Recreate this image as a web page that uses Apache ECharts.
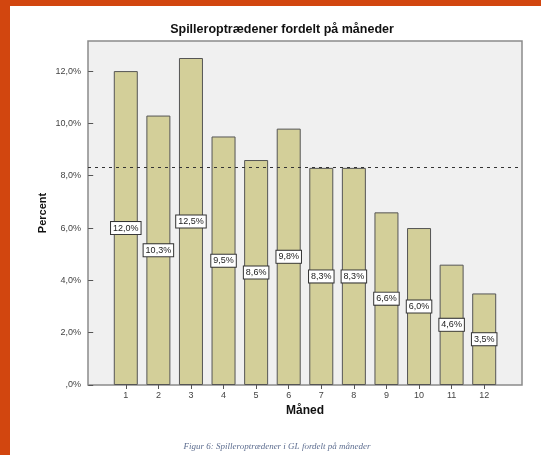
<!DOCTYPE html>
<html>
<head>
<meta charset="utf-8">
<script src="https://cdn.jsdelivr.net/npm/echarts@6/dist/echarts.min.js"></script>
<style>
html,body{margin:0;padding:0;background:#fff;}
#c{width:541px;height:455px;}
</style>
</head>
<body>
<div id="c"></div>
<script>
var months = [1,2,3,4,5,6,7,8,9,10,11,12];
var percents = [12.0,10.3,12.5,9.5,8.6,9.8,8.3,8.3,6.6,6.0,4.6,3.5];
var meanPercent = 8.33;
var yTicks = [0,2,4,6,8,10,12];

function fmtPct(v){
  var s = v.toFixed(1).replace('.', ',');
  if (s.indexOf('0,') === 0) s = s.substring(1);
  return s + '%';
}

var chart = echarts.init(document.getElementById('c'), null, {renderer:'canvas'});
chart.setOption({
  animation:false,
  backgroundColor:'#ffffff',
  textStyle:{fontFamily:'Liberation Sans, Arial, sans-serif'},
  title:{
    text:'Spilleroptrædener fordelt på måneder',
    left:277, top:18, textAlign:'center',
    textStyle:{fontSize:12.5, fontWeight:'bold', color:'#111', fontFamily:'Liberation Sans, Arial, sans-serif'}
  },
  grid:{left:88, right:19, top:41, bottom:70, show:true, backgroundColor:'#f0f0f0', borderColor:'#8a8a8a', borderWidth:1.5},
  xAxis:{
    type:'value', min:-0.16, max:13.16,
    name:'Måned', nameLocation:'middle', nameGap:20,
    nameTextStyle:{fontSize:12, fontWeight:'bold', color:'#111'},
    axisLine:{show:false},
    splitLine:{show:false},
    axisTick:{show:true, length:4, lineStyle:{color:'#555'}, customValues:months},
    axisLabel:{fontSize:9, color:'#444', margin:6, customValues:months, formatter:function(v){return String(v);}}
  },
  yAxis:{
    type:'value', min:0, max:13.15,
    name:'Percent', nameLocation:'middle', nameGap:40, nameMoveOverlap:false,
    nameTextStyle:{fontSize:11, fontWeight:'bold', color:'#111'},
    axisLine:{show:false},
    splitLine:{show:false},
    axisTick:{show:true, length:5, lineStyle:{color:'#555'}, customValues:yTicks},
    axisLabel:{fontSize:9, color:'#444', margin:7, customValues:yTicks, formatter:function(v){return fmtPct(v);}}
  },
  series:[{
    type:'bar',
    data:months.map(function(m,i){return [m, percents[i]];}),
    barWidth:24,
    itemStyle:{color:'#d3cf99', borderColor:'#555', borderWidth:1},
    label:{
      show:true, position:'inside',
      formatter:function(p){return fmtPct(p.value[1]);},
      fontSize:9, color:'#222',
      backgroundColor:'#fff', borderColor:'#333', borderWidth:1,
      padding:[2,2,1,2]
    },
    markLine:{
      silent:true, symbol:'none',
      label:{show:false},
      lineStyle:{type:[3,4], color:'#333', width:1},
      data:[{yAxis:meanPercent}]
    }
  }],
  graphic:[
    {type:'rect', shape:{x:0,y:0,width:10,height:455}, style:{fill:'#d2460f'}},
    {type:'rect', shape:{x:0,y:0,width:541,height:6}, style:{fill:'#d2460f'}},
    {type:'text', x:277, y:447, style:{text:'Figur 6: Spilleroptrædener i GL fordelt på måneder', fill:'#5e6e90', font:'italic 9px "Liberation Serif", serif', textAlign:'center', textVerticalAlign:'middle'}}
  ]
});
</script>
</body>
</html>
